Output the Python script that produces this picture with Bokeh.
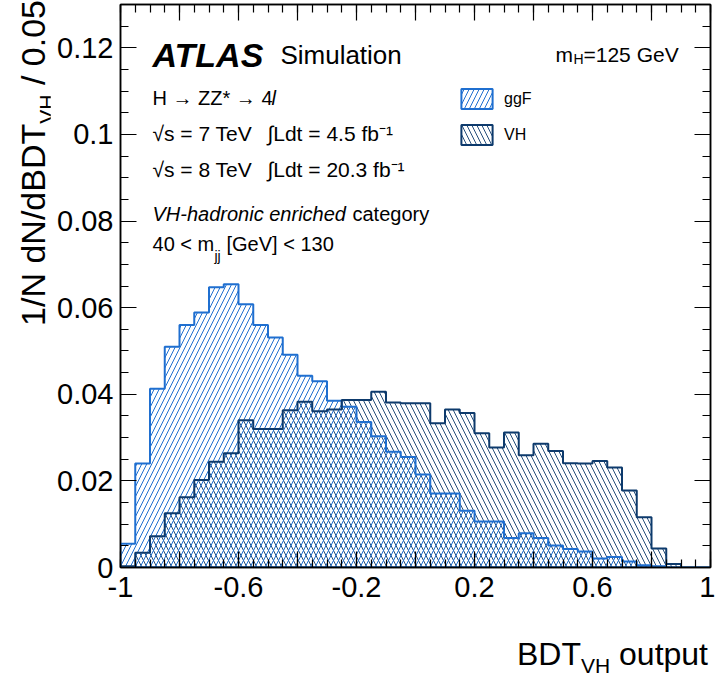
import numpy as np
from bokeh.plotting import figure
from bokeh.models import (Range1d, FixedTicker, LinearAxis, Label, Legend, LegendItem,
                          CustomLabelingPolicy, Div)
from bokeh.layouts import row, column
from bokeh.embed import file_html
from bokeh.resources import INLINE

# ---------------- data ----------------
bin_low = -1.0
bin_high = 1.0
n_bins = 40

ggf_values = [0.0055, 0.0240, 0.0413, 0.0510, 0.0560, 0.0589, 0.0647, 0.0654, 0.0608, 0.0560,
              0.0531, 0.0491, 0.0443, 0.0430, 0.0385, 0.0371, 0.0336, 0.0303, 0.0267, 0.0255,
              0.0215, 0.0171, 0.0171, 0.0131, 0.0106, 0.0106, 0.0068, 0.0079, 0.0068, 0.0051,
              0.0043, 0.0037, 0.0021, 0.0024, 0.0014, 0.0005, 0.0003, 0.0, 0.0, 0.0]

vh_values = [0.0003, 0.0034, 0.0072, 0.0125, 0.0162, 0.0202, 0.0244, 0.0264, 0.0340, 0.0320,
             0.0320, 0.0363, 0.0383, 0.0361, 0.0365, 0.0387, 0.0387, 0.0406, 0.0381, 0.0379,
             0.0379, 0.0333, 0.0365, 0.0357, 0.0310, 0.0277, 0.0312, 0.0259, 0.0286, 0.0269,
             0.0241, 0.0240, 0.0246, 0.0231, 0.0178, 0.0116, 0.0044, 0.0008, 0.0, 0.0]

series_names = ["ggF", "VH"]

x_tick_values = [-1, -0.8, -0.6, -0.4, -0.2, 0, 0.2, 0.4, 0.6, 0.8, 1]
x_tick_labels = ["-1", "", "-0.6", "", "-0.2", "", "0.2", "", "0.6", "", "1"]
y_tick_values = [0, 0.02, 0.04, 0.06, 0.08, 0.1, 0.12]
y_tick_labels = ["0", "0.02", "0.04", "0.06", "0.08", "0.1", "0.12"]

# ---------------- styling ----------------
GGF_COLOR = "#1f6fd0"
VH_COLOR = "#0d3a6c"
FONT = "Liberation Sans"

edges = np.linspace(bin_low, bin_high, n_bins + 1)
x_minor = [round(v, 2) for v in np.arange(-1.0, 1.0001, 0.05)]
y_minor = [round(v, 3) for v in np.arange(0.0, 0.1301, 0.005)]


def outline(vals):
    xs = [edges[0]]
    ys = [0.0]
    for i, v in enumerate(vals):
        xs += [edges[i], edges[i + 1]]
        ys += [v, v]
    xs.append(edges[-1])
    ys.append(0.0)
    return xs, ys


YDIV_W = 50
P_W = 665
P_H = 612

p = figure(width=P_W, height=P_H, x_range=Range1d(-1, 1), y_range=Range1d(0, 0.13),
           output_backend="svg", toolbar_location=None,
           min_border_left=70, min_border_right=5, min_border_top=2, min_border_bottom=45)
p.grid.visible = False
p.outline_line_color = "black"
p.outline_line_width = 1.5
p.background_fill_color = "white"
p.border_fill_color = "white"

gx, gy = outline(ggf_values)
vx, vy = outline(vh_values)

HS = 10
r_vh_h = p.patch(vx, vy, fill_color=None, line_color=None, hatch_pattern="\\",
                 hatch_color=VH_COLOR, hatch_scale=HS, hatch_weight=1, hatch_alpha=0.9)
r_ggf_h = p.patch(gx, gy, fill_color=None, line_color=None, hatch_pattern="/",
                  hatch_color=GGF_COLOR, hatch_scale=HS, hatch_weight=1)
r_ggf_o = p.patch(gx, gy, fill_color=None, line_color=GGF_COLOR, line_width=2)
r_vh_o = p.patch(vx, vy, fill_color=None, line_color=VH_COLOR, line_width=2)

legend = Legend(items=[LegendItem(label=series_names[0], renderers=[r_ggf_h, r_ggf_o]),
                       LegendItem(label=series_names[1], renderers=[r_vh_h, r_vh_o])],
                location=(337, 420), glyph_width=39, glyph_height=25, spacing=11,
                padding=0, margin=0, label_standoff=8, border_line_color=None,
                background_fill_alpha=0, label_text_font_size="16px", label_text_font=FONT,
                label_text_color="black")
p.add_layout(legend)

EVEN_ONLY = CustomLabelingPolicy(code="""
const result = new Set()
for (const i of indices) { if (i % 2 == 0) result.add(i) }
return result
""")


def style_axis(ax, ticks, minor, labels, show_labels, standoff, policy=None):
    ax.ticker = FixedTicker(ticks=ticks, minor_ticks=minor)
    ax.axis_line_color = "black"
    ax.axis_line_width = 1.5
    ax.major_tick_in = 16
    ax.major_tick_out = 0
    ax.minor_tick_in = 8
    ax.minor_tick_out = 0
    ax.major_tick_line_width = 1.2
    ax.minor_tick_line_width = 1.2
    ax.major_tick_line_color = "black"
    ax.minor_tick_line_color = "black"
    ax.major_label_text_font = FONT
    ax.major_label_text_color = "black"
    if show_labels:
        ax.major_label_overrides = dict(zip(ticks, labels))
        ax.major_label_text_font_size = "29px"
        ax.major_label_standoff = standoff
        if policy is not None:
            ax.major_label_policy = policy
    else:
        ax.major_label_text_font_size = "1px"
        ax.major_label_standoff = 0
        ax.major_label_policy = CustomLabelingPolicy(code="return new Set()")


style_axis(p.xaxis[0], x_tick_values, x_minor, x_tick_labels, True, 9, EVEN_ONLY)
style_axis(p.yaxis[0], y_tick_values, y_minor, y_tick_labels, True, 7)
top_axis = LinearAxis()
right_axis = LinearAxis()
style_axis(top_axis, x_tick_values, x_minor, x_tick_labels, False, 0)
style_axis(right_axis, y_tick_values, y_minor, y_tick_labels, False, 0)
p.add_layout(top_axis, "above")
p.add_layout(right_axis, "right")


def txt(text, x, y, size, style="normal"):
    p.add_layout(Label(x=x, y=y, text=text, text_font=FONT, text_font_size=f"{size}px",
                       text_font_style=style, text_align="left",
                       text_baseline="alphabetic", text_color="black"))


# ATLAS label block
txt("ATLAS", -0.8915, 0.1183, 34, "bold italic")
txt("Simulation", -0.458, 0.1183, 26)
txt("H \u2192 ZZ* \u2192 4", -0.8915, 0.1084, 20)
txt("l", -0.4881, 0.1084, 20, "italic")
txt("\u221as = 7 TeV", -0.8915, 0.1003, 21)
txt("\u222bLdt = 4.5 fb\u207b\u00b9", -0.5017, 0.1003, 21)
txt("\u221as = 8 TeV", -0.8915, 0.0918, 21)
txt("\u222bLdt = 20.3 fb\u207b\u00b9", -0.5017, 0.0918, 21)
txt("VH-hadronic enriched", -0.8915, 0.0817, 20, "italic")
txt("category", -0.2136, 0.0817, 20)
txt("40 < m", -0.8915, 0.0746, 20)
txt("jj", -0.6814, 0.0720, 14)
txt("[GeV] < 130", -0.6407, 0.0746, 20)
txt("m", 0.4746, 0.1185, 21)
txt("H", 0.5356, 0.1174, 14)
txt("=125 GeV", 0.5695, 0.1185, 21)

# axis titles as HTML (subscripts)
font_css = f"font-family:'{FONT}';color:black;white-space:nowrap;line-height:1;"
y_title_html = (
    f'<div style="position:relative;width:{YDIV_W}px;height:{P_H}px;">'
    f'<div style="position:absolute;left:16px;top:0px;transform-origin:0 0;'
    f'transform:rotate(-90deg) translateX(-100%);{font_css}font-size:34px;">'
    f'1/N dN/dBDT<span style="font-size:21px;position:relative;top:9px;">VH</span> / 0.05'
    f'</div></div>'
)
x_title_html = (
    f'<div style="position:relative;width:{YDIV_W + P_W}px;height:{679 - P_H}px;">'
    f'<div style="position:absolute;right:7px;top:26px;{font_css}font-size:32px;">'
    f'BDT<span style="font-size:21px;position:relative;top:8px;">VH</span> output'
    f'</div></div>'
)
y_div = Div(text=y_title_html, width=YDIV_W, height=P_H, margin=(0, 0, 0, 0))
x_div = Div(text=x_title_html, width=YDIV_W + P_W, height=679 - P_H, margin=(0, 0, 0, 0))

layout = column(row(y_div, p, spacing=0), x_div, spacing=0)

html = file_html(layout, INLINE, "BDT VH output")
with open("out.html", "w") as f:
    f.write(html)
